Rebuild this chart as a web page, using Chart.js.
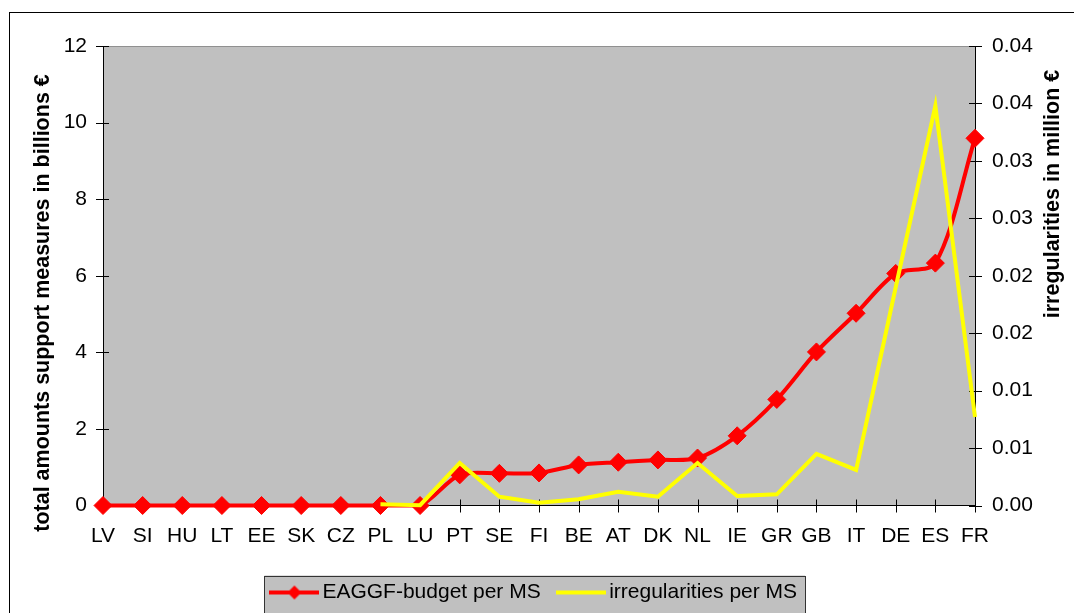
<!DOCTYPE html>
<html>
<head>
<meta charset="utf-8">
<script src="https://cdn.jsdelivr.net/npm/chart.js@4.4.0/dist/chart.umd.min.js"></script>
<style>
  html, body { margin: 0; padding: 0; background: #fff; overflow: hidden; }
  #wrap { position: relative; width: 1074px; height: 613px; }
  #frame { position: absolute; left: 9px; top: 12px; width: 1100px; height: 700px;
           border: 1px solid #000; box-sizing: border-box; pointer-events: none; }
</style>
</head>
<body>
<div id="wrap">
  <canvas id="chart" width="1074" height="613"></canvas>
  <div id="frame"></div>
</div>
<script>
// data
const categories = ['LV', 'SI', 'HU', 'LT', 'EE', 'SK', 'CZ', 'PL', 'LU', 'PT', 'SE', 'FI',
  'BE', 'AT', 'DK', 'NL', 'IE', 'GR', 'GB', 'IT', 'DE', 'ES', 'FR'];
const budgetValues = [0, 0, 0, 0, 0, 0, 0, 0, 0, 0.80, 0.84, 0.85,
  1.06, 1.13, 1.19, 1.24, 1.82, 2.77, 4.01, 5.02, 6.06, 6.33, 9.59];
const irregularityValues = [null, null, null, null, null, null, null, 0.0001, 0.00003, 0.0037, 0.00077, 0.00025,
  0.00054, 0.0012, 0.00077, 0.0037, 0.00083, 0.00097, 0.0045, 0.0031, 0.019, 0.0348, 0.0077];
const leftTickLabels = ['0', '2', '4', '6', '8', '10', '12'];
const rightTickLabels = ['0.00', '0.01', '0.01', '0.02', '0.02', '0.03', '0.03', '0.04', '0.04'];
const seriesNames = ['EAGGF-budget per MS', 'irregularities per MS'];
const axisTitles = ['total amounts support measures in billions €', 'irregularities in million €'];

const FONT = '"Liberation Sans", Arial, sans-serif';

// little legend swatches: line with diamond, plain line
function makeSwatch(color, diamond) {
  const c = document.createElement('canvas');
  c.width = 50; c.height = 16;
  const g = c.getContext('2d');
  g.strokeStyle = color; g.lineWidth = 4;
  g.beginPath(); g.moveTo(0, 8); g.lineTo(50, 8); g.stroke();
  if (diamond) {
    g.fillStyle = color;
    g.beginPath(); g.moveTo(25, 1); g.lineTo(32, 8); g.lineTo(25, 15); g.lineTo(18, 8); g.closePath(); g.fill();
  }
  return c;
}
const swatches = [makeSwatch('#ff0000', true), makeSwatch('#ffff00', false)];

// gray plot area + legend frame
const plotBackground = {
  id: 'plotBackground',
  beforeDraw(chart) {
    const { ctx, chartArea: a } = chart;
    ctx.save();
    ctx.fillStyle = '#c0c0c0';
    ctx.fillRect(a.left, a.top, a.right - a.left, a.bottom - a.top);
    ctx.strokeStyle = '#909090';
    ctx.lineWidth = 1;
    ctx.beginPath();
    ctx.moveTo(a.left, a.top + 0.5); ctx.lineTo(a.right, a.top + 0.5);
    ctx.stroke();

    const boxes = chart.legend.legendHitBoxes;
    if (boxes && boxes.length) {
      let l = Infinity, r = -Infinity, mid = 0;
      boxes.forEach(h => {
        l = Math.min(l, h.left); r = Math.max(r, h.left + h.width);
        mid = h.top + h.height / 2;
      });
      l -= 12.5; r += 8;
      const t = mid - 17, b = mid + 22;
      ctx.fillStyle = '#c0c0c0';
      ctx.fillRect(l, t, r - l, b - t);
      ctx.strokeStyle = '#333';
      ctx.strokeRect(Math.round(l) + 0.5, Math.round(t) + 0.5, Math.round(r - l), Math.round(b - t));
    }
    ctx.restore();
  }
};

// tick marks that cross the axis lines
const crossTicks = {
  id: 'crossTicks',
  beforeDatasetsDraw(chart) {
    const { ctx, scales: { x, y, y1 } } = chart;
    ctx.save();
    ctx.strokeStyle = '#000';
    ctx.lineWidth = 1;
    ctx.beginPath();
    x.ticks.forEach((t, i) => {
      const px = Math.round(x.getPixelForTick(i)) + 0.5;
      ctx.moveTo(px, x.top - 6); ctx.lineTo(px, x.top + 7);
    });
    y.ticks.forEach((t, i) => {
      const py = Math.round(y.getPixelForTick(i)) + 0.5;
      ctx.moveTo(y.right - 7, py); ctx.lineTo(y.right + 6, py);
    });
    y1.ticks.forEach((t, i) => {
      const py = Math.round(y1.getPixelForTick(i)) + 0.5;
      ctx.moveTo(y1.left - 6, py); ctx.lineTo(y1.left + 7, py);
    });
    ctx.stroke();
    ctx.restore();
  }
};

// axis titles, placed like in the original (not centred on the axis)
const axisTitlePlugin = {
  id: 'axisTitlePlugin',
  afterDraw(chart) {
    const { ctx } = chart;
    const spots = [[43, 303], [1053, 194]];
    spots.forEach((p, i) => {
      ctx.save();
      ctx.fillStyle = '#000';
      ctx.font = 'bold 21.5px ' + FONT;
      ctx.textAlign = 'center';
      ctx.textBaseline = 'middle';
      ctx.translate(p[0], p[1]);
      ctx.rotate(-Math.PI / 2);
      ctx.fillText(axisTitles[i], 0, 0);
      ctx.restore();
    });
  }
};

const tickFont = { family: FONT, size: 21 };

new Chart('chart', {
  type: 'line',
  data: {
    labels: categories,
    datasets: [{
      label: seriesNames[0],
      data: budgetValues,
      yAxisID: 'y',
      order: 1,
      borderColor: '#ff0000',
      backgroundColor: '#ff0000',
      borderWidth: 4,
      tension: 0.3,
      pointStyle: 'rectRot',
      pointRadius: 9,
      pointBorderWidth: 1,
      pointBackgroundColor: '#ff0000',
      pointBorderColor: '#ff0000',
      clip: false
    }, {
      label: seriesNames[1],
      data: irregularityValues,
      yAxisID: 'y1',
      order: 0,
      borderColor: '#ffff00',
      backgroundColor: '#ffff00',
      borderWidth: 4,
      tension: 0,
      pointRadius: 0,
      clip: false
    }]
  },
  options: {
    responsive: false,
    animation: false,
    layout: { padding: { top: 46, left: 0, right: 0, bottom: 0 } },
    plugins: {
      tooltip: { enabled: false },
      legend: {
        position: 'bottom',
        labels: {
          usePointStyle: true,
          pointStyleWidth: 35,
          padding: 23,
          color: '#000',
          font: { family: FONT, size: 21 },
          sort: (a, b) => a.datasetIndex - b.datasetIndex,
          generateLabels(chart) {
            const items = Chart.defaults.plugins.legend.labels.generateLabels(chart);
            items.forEach(it => { it.pointStyle = swatches[it.datasetIndex]; });
            return items;
          }
        }
      }
    },
    scales: {
      x: {
        type: 'category',
        offset: false,
        grid: { drawOnChartArea: false, drawTicks: false },
        border: { color: '#000', width: 1 },
        ticks: { color: '#000', font: tickFont, padding: 18, maxRotation: 0, autoSkip: false },
        afterFit(s) { s.height = 53.5; }
      },
      y: {
        position: 'left',
        min: 0,
        max: 12,
        grid: { drawOnChartArea: false, drawTicks: false },
        border: { color: '#000', width: 1 },
        ticks: {
          stepSize: 2, color: '#000', font: tickFont, padding: 16,
          callback: (v, i) => leftTickLabels[i]
        },
        afterFit(s) { s.width = 103; }
      },
      y1: {
        position: 'right',
        min: 0,
        max: 0.04,
        grid: { drawOnChartArea: false, drawTicks: false },
        border: { color: '#000', width: 1 },
        ticks: {
          count: 9, color: '#000', font: tickFont, padding: 17,
          callback: (v, i) => rightTickLabels[i]
        },
        afterFit(s) { s.width = 99; }
      }
    }
  },
  plugins: [plotBackground, crossTicks, axisTitlePlugin]
});
</script>
</body>
</html>
